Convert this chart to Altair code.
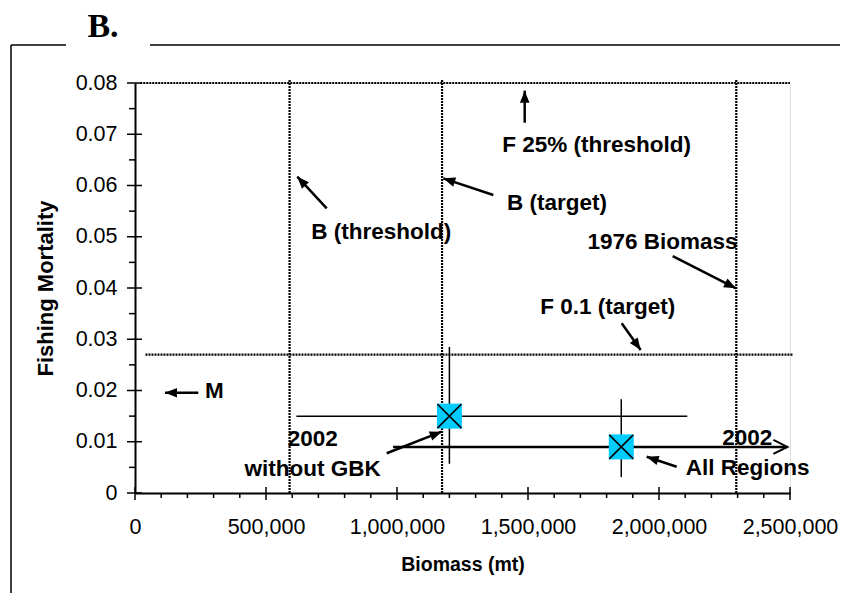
import math
import altair as alt
import pandas as pd

# ---------------- data ----------------
X_MAX = 2500000
Y_MAX = 0.08
W, H = 655, 410

x_ticks = [0, 500000, 1000000, 1500000, 2000000, 2500000]
y_ticks = [0, 0.01, 0.02, 0.03, 0.04, 0.05, 0.06, 0.07, 0.08]
x_minor = [v for v in range(100000, 2500000, 100000) if v % 500000]
y_minor = [0.005, 0.015, 0.025, 0.035, 0.045, 0.055, 0.065, 0.075]

# horizontal reference lines (F 25% threshold, F 0.1 target)
h_ref_y = [0.08, 0.027]
h_ref_x0 = [20000, 40000]
h_ref_x1 = [2500000, 2510000]

# vertical reference lines (B threshold, B target, 1976 biomass)
v_ref_x = [590000, 1172000, 2295000]
v_ref_y0 = [0, 0, 0]
v_ref_y1 = [0.0806, 0.0806, 0.0806]

# 2002 estimates with ranges
est_names = ["2002 without GBK", "2002 All Regions"]
est_biomass = [1200000, 1856000]
est_f = [0.015, 0.009]
est_b_lo = [616000, 985000]
est_b_hi = [2108000, 2490000]
est_f_lo = [0.0057, 0.0031]
est_f_hi = [0.0285, 0.0183]
est_bar_width = [1.5, 2.5]

# annotation labels
label_text = ["F  25% (threshold)", "B (target)", "B (threshold)", "1976 Biomass",
              "F  0.1 (target)", "M", "2002", "without GBK", "2002", "All Regions"]
label_x = [1762000, 1610700, 939700, 2013300, 1804600, 302700, 678600, 678000, 2336700, 2337800]
label_y = [0.0679, 0.0566, 0.0510, 0.0490, 0.0363, 0.0200, 0.0105, 0.00462, 0.0108, 0.00482]

# annotation arrows (start -> tip)
arrow_x0 = [1487400, 1367600, 731700, 2052300, 1857600, 241600, 960700, 2067500]
arrow_y0 = [0.07225, 0.05815, 0.05555, 0.04624, 0.03311, 0.01957, 0.00775, 0.00513]
arrow_x1 = [1487400, 1176700, 619400, 2293900, 1930100, 114500, 1170600, 1953000]
arrow_y1 = [0.0785, 0.0614, 0.06172, 0.03994, 0.0279, 0.01957, 0.01196, 0.00708]

# ---------------- tables ----------------
px_x = W / X_MAX
px_y = H / Y_MAX
angles = []
for a, b, c, d in zip(arrow_x0, arrow_y0, arrow_x1, arrow_y1):
    dx = (c - a) * px_x
    dy = -(d - b) * px_y
    angles.append((math.degrees(math.atan2(dx, -dy)) + 360) % 360)

arrows = pd.DataFrame({"x0": arrow_x0, "y0": arrow_y0, "x1": arrow_x1, "y1": arrow_y1, "ang": angles})
labels = pd.DataFrame({"t": label_text, "x": label_x, "y": label_y})
href = pd.DataFrame({"y": h_ref_y, "x0": h_ref_x0, "x1": h_ref_x1})
vref = pd.DataFrame({"x": v_ref_x, "y0": v_ref_y0, "y1": v_ref_y1})
est = pd.DataFrame({"name": est_names, "b": est_biomass, "f": est_f, "blo": est_b_lo,
                    "bhi": est_b_hi, "flo": est_f_lo, "fhi": est_f_hi, "w": est_bar_width})
xmaj = pd.DataFrame({"v": x_ticks})
xmin = pd.DataFrame({"v": x_minor})
ymaj = pd.DataFrame({"v": y_ticks})
ymin = pd.DataFrame({"v": y_minor})

FONT = "Liberation Sans"
xs = alt.Scale(domain=[0, X_MAX], nice=False, zero=True)
ys = alt.Scale(domain=[0, Y_MAX], nice=False, zero=True)
xax = alt.Axis(values=x_ticks, format=",d", ticks=False, tickSize=0, grid=False,
               domainColor="black", domainWidth=2, labelFont=FONT, labelFontSize=21.5,
               labelColor="black", labelPadding=23, labelFlush=False, labelOverlap=False,
               title="Biomass (mt)", titleFont=FONT, titleFontSize=19.5, titleFontWeight="bold",
               titleColor="black", titlePadding=18)
yax = alt.Axis(values=y_ticks, ticks=False, tickSize=0, grid=False,
               labelExpr="datum.value == 0 ? '0' : format(datum.value, '.2f')",
               domainColor="black", domainWidth=2, labelFont=FONT, labelFontSize=21.5,
               labelColor="black", labelPadding=18, labelFlush=False, labelOverlap=False,
               title="Fishing Mortality", titleFont=FONT, titleFontSize=22, titleFontWeight="bold",
               titleColor="black", titlePadding=18)


def X(f):
    return alt.X(f, type="quantitative", scale=xs, axis=xax)


def Y(f):
    return alt.Y(f, type="quantitative", scale=ys, axis=yax)


dot = dict(color="black", strokeWidth=2.2, strokeDash=[2, 1])

h_lines = alt.Chart(href).mark_rule(**dot).encode(x=X("x0"), x2="x1", y=Y("y"))
v_lines = alt.Chart(vref).mark_rule(**dot).encode(x=X("x"), y=Y("y0"), y2="y1")

# manual ticks (Excel style: major cross, minor outside)
y_major_ticks = alt.Chart(ymaj).mark_rule(color="black", strokeWidth=1.5).encode(
    y=Y("v"), x=alt.value(-8), x2=alt.value(7))
y_minor_ticks = alt.Chart(ymin).mark_rule(color="black", strokeWidth=1.5).encode(
    y=Y("v"), x=alt.value(-6), x2=alt.value(0))
x_major_ticks = alt.Chart(xmaj).mark_rule(color="black", strokeWidth=1.5).encode(
    x=X("v"), y=alt.value(H - 6), y2=alt.value(H + 7))
x_minor_ticks = alt.Chart(xmin).mark_rule(color="black", strokeWidth=1.5).encode(
    x=X("v"), y=alt.value(H), y2=alt.value(H + 5))

# error bars
bars_h = alt.Chart(est).mark_rule(color="black").encode(
    x=X("blo"), x2="bhi", y=Y("f"), strokeWidth=alt.StrokeWidth("w:Q", scale=None, legend=None))
bars_v = alt.Chart(est).mark_rule(color="black", strokeWidth=1.5).encode(
    x=X("b"), y=Y("flo"), y2="fhi")
chevron = alt.Chart(est.iloc[[1]]).mark_point(
    shape="M-2,-1L0,0L-2,1", size=196, filled=False, color="black", strokeWidth=2, opacity=1
).encode(x=X("bhi"), y=Y("f"))

squares = alt.Chart(est).mark_point(shape="square", size=625, filled=True, color="#00CCFF",
                                    opacity=1).encode(x=X("b"), y=Y("f"))
crosses = alt.Chart(est).mark_point(shape="M-1,-1L1,1M-1,1L1,-1", size=576, filled=False,
                                    color="black", strokeWidth=1.5, opacity=1).encode(
    x=X("b"), y=Y("f"))

# annotations
arrow_lines = alt.Chart(arrows).mark_rule(color="black", strokeWidth=2.5).encode(
    x=X("x0"), y=Y("y0"), x2="x1", y2="y1")
arrow_heads = alt.Chart(arrows).mark_point(shape="M0,0L0.8,2L-0.8,2Z", size=144, filled=True,
                                           color="black", opacity=1).encode(
    x=X("x1"), y=Y("y1"), angle=alt.Angle("ang:Q", scale=None))
texts = alt.Chart(labels).mark_text(font=FONT, fontSize=22.5, fontWeight="bold", color="black",
                                    align="center", baseline="middle").encode(
    x=X("x"), y=Y("y"), text="t:N")

# outer frame and panel letter
frame_left = alt.Chart(xmaj.iloc[[0]]).mark_rule(color="black", strokeWidth=1.5).encode(
    x=alt.value(-124), y=alt.value(-38), y2=alt.value(520))
frame_top1 = alt.Chart(xmaj.iloc[[0]]).mark_rule(color="black", strokeWidth=1.5).encode(
    x=alt.value(-124), x2=alt.value(-69), y=alt.value(-38))
frame_top2 = alt.Chart(xmaj.iloc[[0]]).mark_rule(color="black", strokeWidth=1.5).encode(
    x=alt.value(15), x2=alt.value(720), y=alt.value(-38))
panel = alt.Chart(pd.DataFrame({"t": ["B."]})).mark_text(
    font="Liberation Serif", fontSize=34, fontWeight="bold", color="black",
    align="center", baseline="alphabetic").encode(
    x=alt.value(-32), y=alt.value(-46), text="t:N")

chart = alt.layer(
    h_lines, v_lines, bars_h, bars_v, chevron, squares, crosses,
    arrow_lines, arrow_heads, texts,
    y_major_ticks, y_minor_ticks, x_major_ticks, x_minor_ticks,
    frame_left, frame_top1, frame_top2, panel,
).properties(
    width=W, height=H,
    autosize=alt.AutoSizeParams(type="none"),
    padding={"left": 127, "top": 75, "right": 50, "bottom": 100},
).configure_view(stroke="#808080", strokeWidth=2).configure(background="white")

chart.save("out.html", embed_options={"renderer": "svg", "actions": False})
